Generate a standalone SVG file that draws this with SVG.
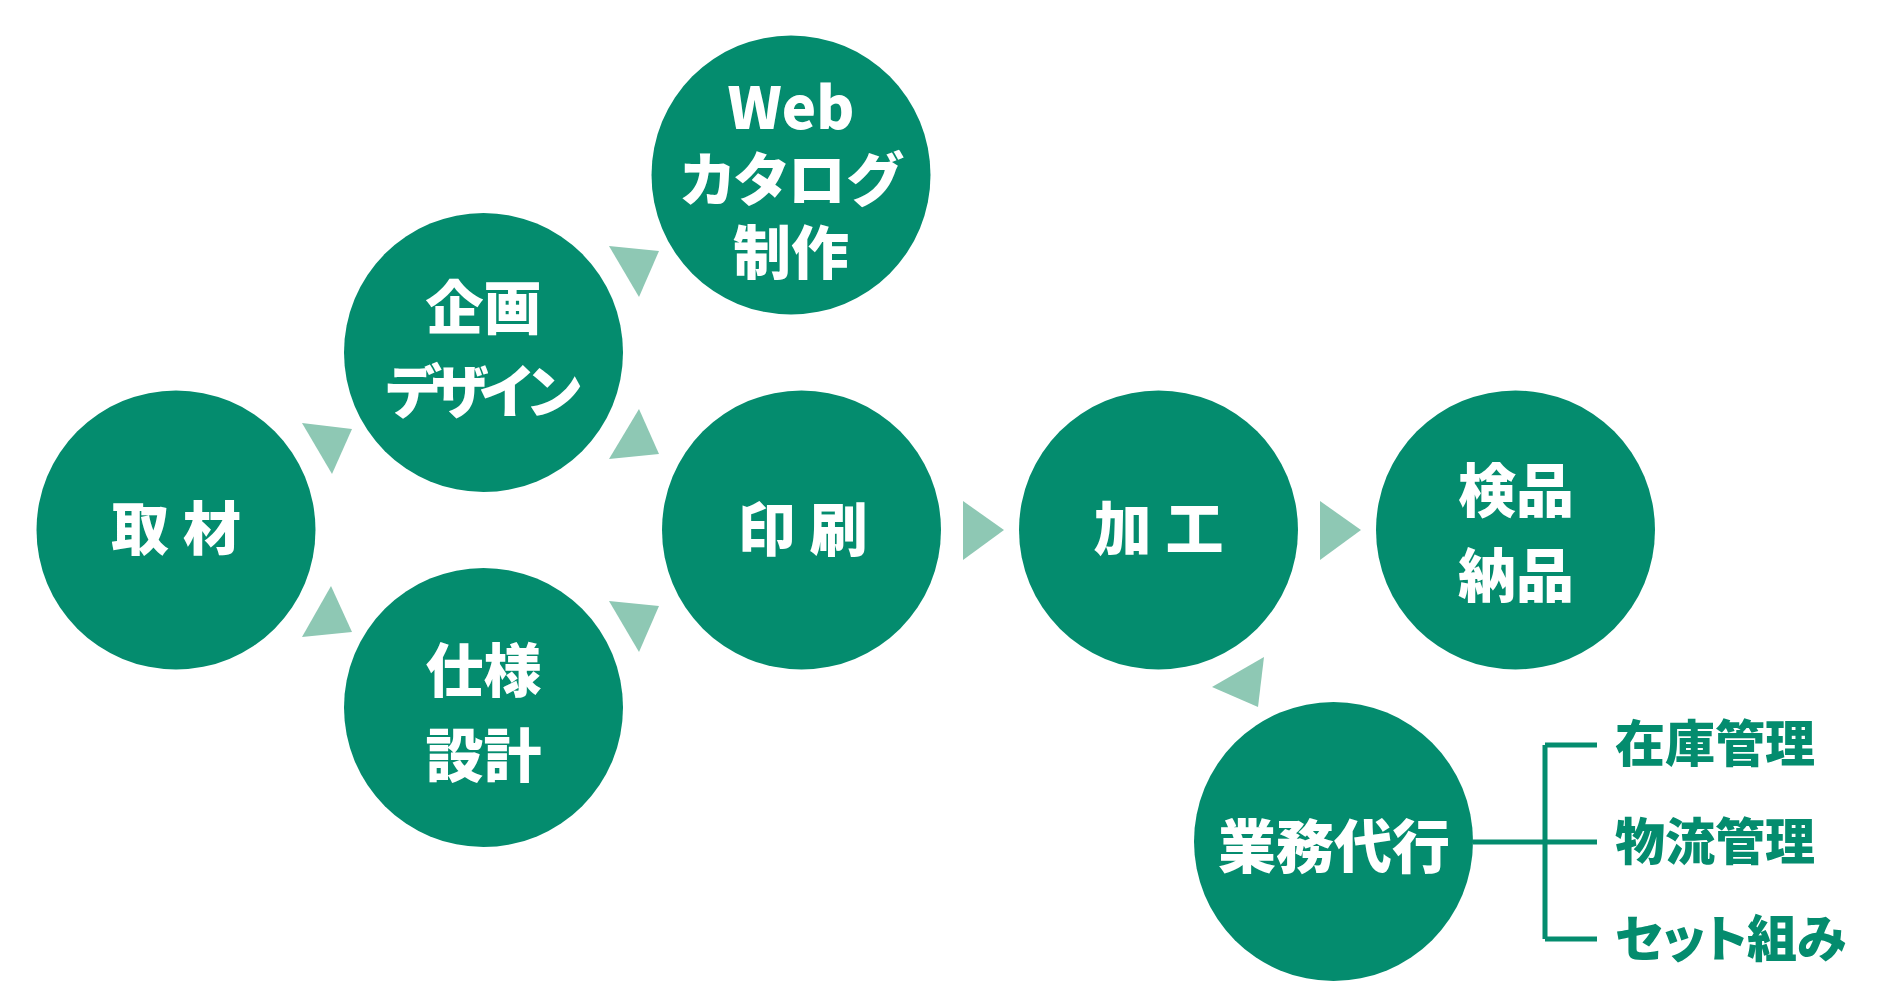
<svg xmlns="http://www.w3.org/2000/svg" width="1880" height="1000" viewBox="0 0 1880 1000">
<style>
.node{fill:#048c6e}
.lbl{fill:#ffffff;font-family:"Noto Sans CJK JP","Noto Sans",sans-serif;font-weight:900;font-size:58px;text-anchor:middle}
.sp{letter-spacing:14px}
.palt{font-feature-settings:"palt"}
.tight{letter-spacing:-11px}
.arrow{fill:#8ec8b4}
.line{stroke:#048c6e;stroke-width:5;fill:none}
.sub{fill:#048c6e;font-family:"Noto Sans CJK JP","Noto Sans",sans-serif;font-weight:900;font-size:50px}
</style>
<rect width="1880" height="1000" fill="#ffffff"/>
<g id="connectors">
<polygon class="arrow" points="302,423 352,429 332,474"/>
<polygon class="arrow" points="331,586 352,632 302,637"/>
<polygon class="arrow" points="609,246 659,251 639,297"/>
<polygon class="arrow" points="639,409 659,454 609,459"/>
<polygon class="arrow" points="609,601 659,606 639,652"/>
<polygon class="arrow" points="963,501 1004,530 963,560"/>
<polygon class="arrow" points="1320,501 1361,530 1320,560"/>
<polygon class="arrow" points="1264,657 1258,707 1212,687"/>
<path class="line" d="M1473,842 H1597 M1545,745 V939 M1545,745 H1597 M1545,939 H1597"/>
</g>
<g id="node-shuzai">
<circle class="node" cx="176" cy="530" r="139.5"/>
<text class="lbl sp" x="183" y="550">取材</text>
</g>
<g id="node-kikaku">
<circle class="node" cx="483.5" cy="352.5" r="139.5"/>
<text class="lbl" x="483.5" y="329">企画</text>
<text class="lbl tight" x="478" y="413">デザイン</text>
</g>
<g id="node-shiyou">
<circle class="node" cx="483.5" cy="707.5" r="139.5"/>
<text class="lbl" x="483.5" y="692">仕様</text>
<text class="lbl" x="483.5" y="777">設計</text>
</g>
<g id="node-web">
<circle class="node" cx="791" cy="175" r="139.5"/>
<text class="lbl" x="791" y="129">Web</text>
<text class="lbl palt" x="791" y="201">カタログ</text>
<text class="lbl" x="791" y="274">制作</text>
</g>
<g id="node-insatsu">
<circle class="node" cx="801.5" cy="530" r="139.5"/>
<text class="lbl sp" x="809.5" y="551">印刷</text>
</g>
<g id="node-kakou">
<circle class="node" cx="1158.5" cy="530" r="139.5"/>
<text class="lbl sp" x="1165.5" y="550">加工</text>
</g>
<g id="node-kenpin">
<circle class="node" cx="1515.5" cy="530" r="139.5"/>
<text class="lbl" x="1516" y="512">検品</text>
<text class="lbl" x="1516" y="597">納品</text>
</g>
<g id="node-gyoumu">
<circle class="node" cx="1333.5" cy="841.5" r="139.5"/>
<text class="lbl" x="1334" y="868">業務代行</text>
</g>
<g id="sub-items">
<text class="sub" x="1615" y="762">在庫管理</text>
<text class="sub" x="1615" y="860">物流管理</text>
<text class="sub palt" x="1615" y="957">セット組み</text>
</g>
</svg>
